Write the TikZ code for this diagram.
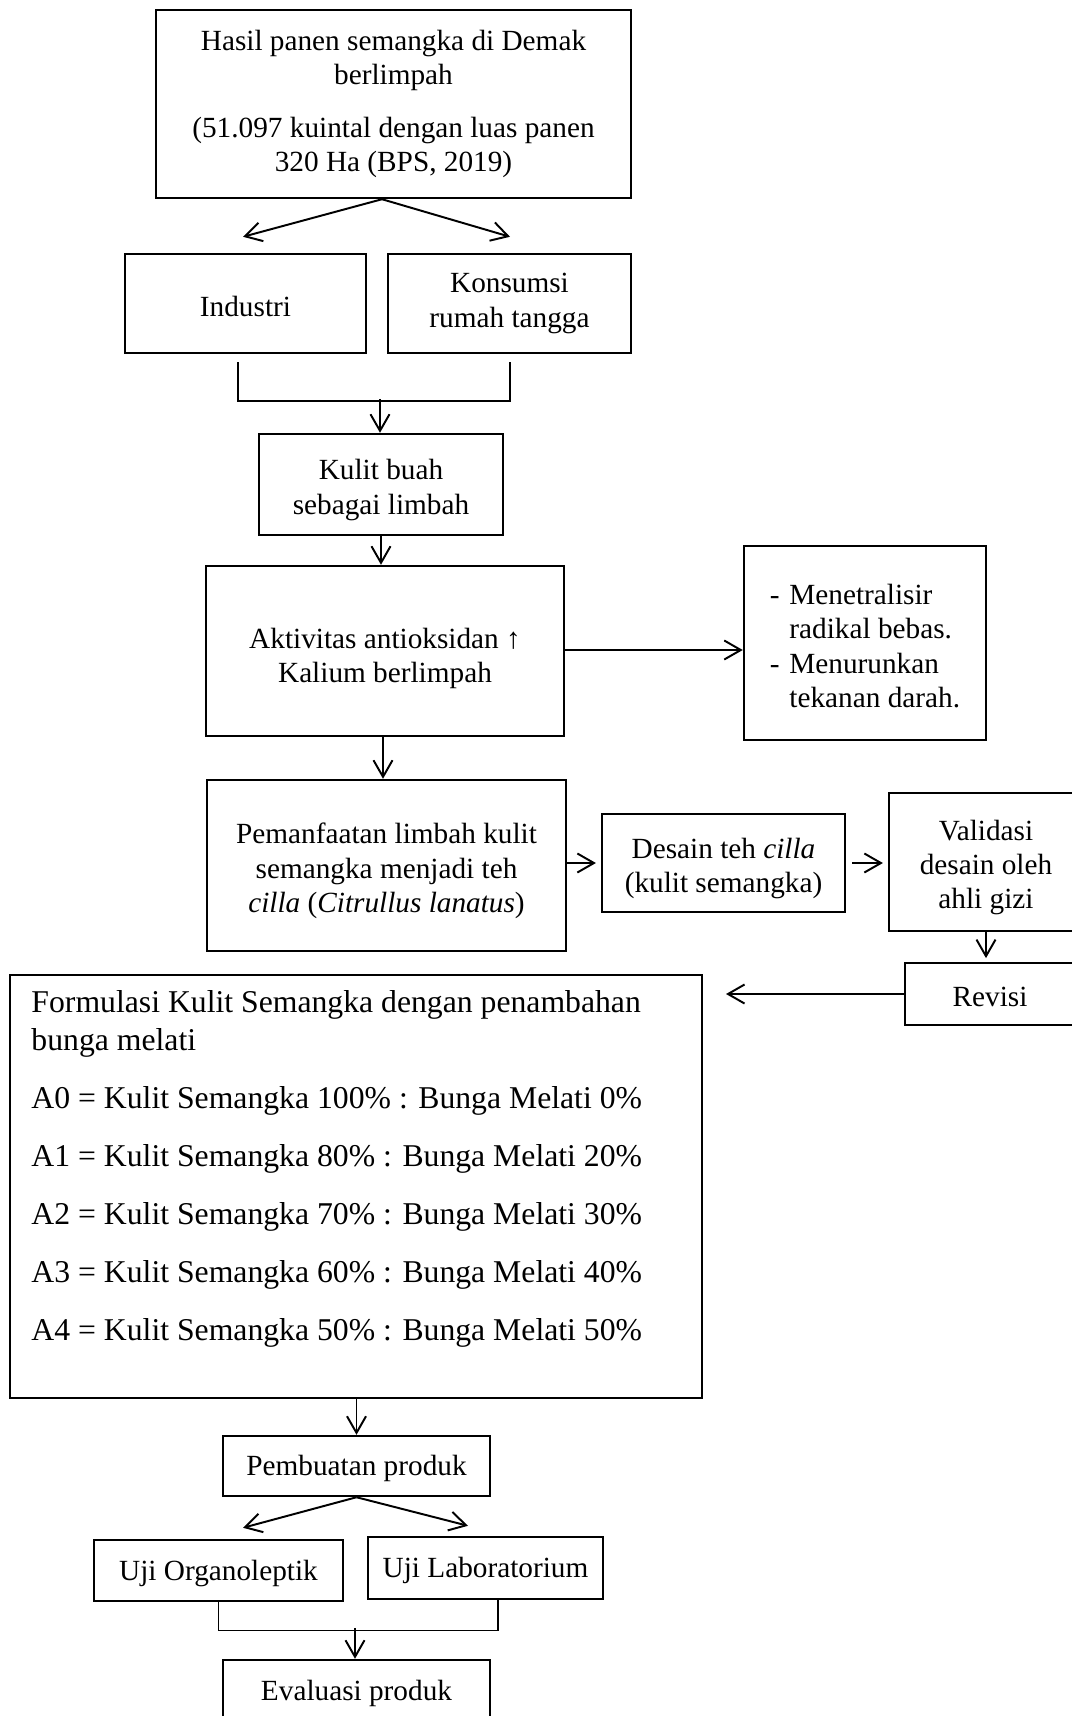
\documentclass[tikz,border=0pt]{standalone}
\usepackage{fontspec}
\setmainfont{Liberation Serif}
\usetikzlibrary{arrows.meta,calc}
% raises the first line of a multi-line label to push the block down a little
\newcommand\headstrut[1]{\rule{0pt}{#1}}

\begin{document}
\begin{tikzpicture}[x=0.41pt,y=-0.41pt,
  box/.style={draw, line width=1pt, inner sep=0pt, align=center,
    font=\fontsize{12}{14}\selectfont,
    execute at begin node={\rule{0pt}{10.5pt}}},
  sz/.style 2 args={minimum width=#1*0.41pt, minimum height=#2*0.41pt},
  arr/.style={line width=0.8pt, -{Straight Barb[length=6.8pt,width=7.8pt,line width=0.8pt]}},
  joint/.style={line width=0.6pt}]

% page area
\clip (0,0) rectangle (1072,1716);
\fill[white] (0,0) rectangle (1072,1716);

% boxes
\node[box, sz={475}{188}] (top) at (393.5,104)
  {Hasil panen semangka di Demak\\berlimpah\\[7.8pt]
   (51.097 kuintal dengan luas panen\\320 Ha (BPS, 2019)};
\node[box, sz={241}{99}] (ind) at (245.5,303.5) {Industri};
\node[box, sz={243}{99}] (kon) at (509.5,303.5) {Konsumsi\\rumah tangga};
\node[box, sz={244}{101}] (kulit) at (381,484.5)
  {\headstrut{12.8pt}Kulit buah\\sebagai limbah};
\node[box, sz={358}{170}] (akt) at (385,651)
  {\headstrut{14.5pt}Aktivitas antioksidan ↑\\Kalium berlimpah};
\node[box, sz={242}{194}] (man) at (865,643)
  {\raisebox{-2.5pt}[\height][\depth]{%
   \begin{tabular}{@{}l@{\hspace{4pt}}l@{}}
   - & Menetralisir\\
     & radikal bebas.\\
   - & Menurunkan\\
     & tekanan darah.
   \end{tabular}}};
\node[box, sz={359}{171}] (pem) at (386.5,865.5)
  {\headstrut{12.8pt}Pemanfaatan limbah kulit\\semangka menjadi teh\\\textit{cilla} (\textit{Citrullus lanatus})};
\node[box, sz={243}{98}] (des) at (723.5,863)
  {\headstrut{12.8pt}Desain teh \textit{cilla}\\(kulit semangka)};
\node[box, sz={194}{138}] (val) at (986,862)
  {\headstrut{12.8pt}Validasi\\desain oleh\\ahli gizi};
\node[box, sz={170}{62}] (rev) at (990,994) {Revisi};
\node[box, sz={692}{423}] (form) at (356,1186.5) {};
\node[anchor=north west, inner sep=0pt, align=left,
      font=\fontsize{13}{15.6}\selectfont] (formtext) at (31,990)
  {Formulasi Kulit Semangka dengan penambahan\\
   bunga melati\\[8pt]
   A0 = Kulit Semangka 100\% : Bunga Melati 0\%\\[8.2pt]
   A1 = Kulit Semangka 80\% : Bunga Melati 20\%\\[8.2pt]
   A2 = Kulit Semangka 70\% : Bunga Melati 30\%\\[8.2pt]
   A3 = Kulit Semangka 60\% : Bunga Melati 40\%\\[8.2pt]
   A4 = Kulit Semangka 50\% : Bunga Melati 50\%};
\node[box, sz={267}{60}] (pemb) at (356.5,1466) {Pembuatan produk};
\node[box, sz={249}{61}] (uji1) at (218.5,1570.5) {Uji Organoleptik};
\node[box, sz={235}{62}] (uji2) at (485.5,1568) {Uji Laboratorium};
\node[box, sz={267}{62}] (eval) at (356.5,1691) {Evaluasi produk};

\coordinate (revend) at (726,994);

% connectors
\draw[arr] ($(top.south)+(-11.5,0)$) -- ($(ind.north)+(-2.5,-16)$);
\draw[arr] ($(top.south)+(-11.5,0)$) -- ($(kon.north)+(0.5,-16)$);
\draw[joint] ($(ind.south)+(-7.5,8)$) |- ($(kon.south)+(0.5,47)$) -- ($(kon.south)+(0.5,8)$);
\draw[arr] ($(kulit.north)+(-1,-34)$) -- ($(kulit.north)+(-1,0)$);
\draw[arr] (kulit.south) -- (kulit.south |- akt.north);
\draw[arr] ($(akt.east)+(0,-1)$) -- ($(akt.east -| man.west)+(0,-1)$);
\draw[arr] ($(akt.south)+(-2,0)$) -- ($(akt.south |- pem.north)+(-2,0)$);
\draw[arr, shorten >=2pt] (pem.east |- des.west) -- (des.west);
\draw[arr, shorten <=2.5pt, shorten >=2pt] (des.east) -- (des.east -| val.west);
\draw[arr, shorten >=1.5pt] (val.south) -- (val.south |- rev.north);
\draw[arr] (rev.west) -- (revend);
\draw[arr] (form.south -| pemb.north) -- (pemb.north);
\draw[arr] (pemb.south) -- ($(uji1.north)+(24.5,-11)$);
\draw[arr] (pemb.south) -- ($(uji2.north)+(-17.5,-10)$);
\draw[joint] (uji1.south) -- ++(0,28) -| ($(uji2.south)+(12.5,0)$);
\draw[arr] ($(eval.north)+(-1.5,-31)$) -- ($(eval.north)+(-1.5,0)$);
\end{tikzpicture}
\end{document}
